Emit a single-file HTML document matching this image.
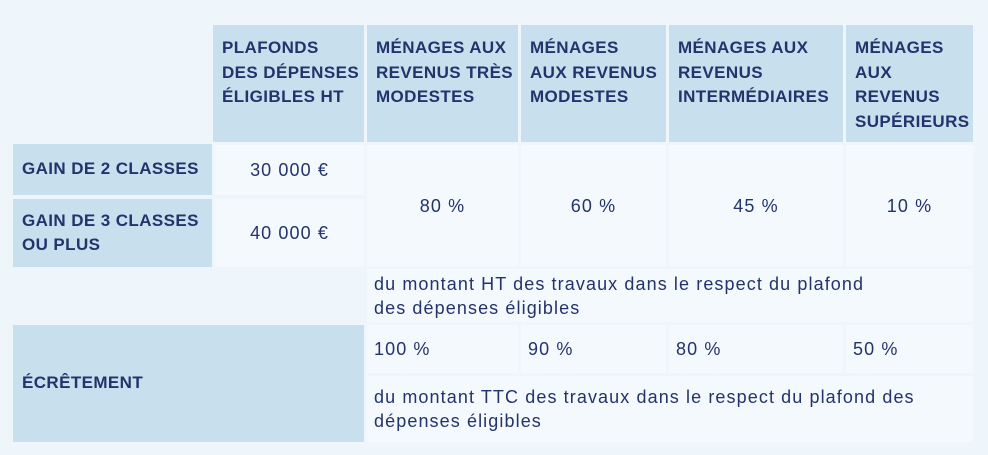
<!DOCTYPE html>
<html><head><meta charset="utf-8"><style>
body{margin:0;width:988px;height:455px;background:#eef5fb;position:relative;overflow:hidden;font-family:"Liberation Sans",sans-serif;color:#23336b}
.c{position:absolute;box-sizing:border-box;white-space:nowrap}
.h{background:#c8dfed;font-weight:bold;font-size:17px;line-height:24.5px;padding:11px 9px;letter-spacing:0.4px}
.d{background:#f4f9fd;font-size:18px;line-height:24px;letter-spacing:1.1px}
.ctr{display:flex;align-items:center;justify-content:center}
.lft{display:flex;align-items:center;padding-left:9px}
</style></head><body>
<div class="c h" style="left:213px;top:25px;width:151px;height:117px">PLAFONDS<br>DES DÉPENSES<br>ÉLIGIBLES HT</div>
<div class="c h" style="left:367px;top:25px;width:151px;height:117px">MÉNAGES AUX<br>REVENUS TRÈS<br>MODESTES</div>
<div class="c h" style="left:521px;top:25px;width:145px;height:117px">MÉNAGES<br>AUX REVENUS<br>MODESTES</div>
<div class="c h" style="left:669px;top:25px;width:174px;height:117px">MÉNAGES AUX<br>REVENUS<br>INTERMÉDIAIRES</div>
<div class="c h" style="left:846px;top:25px;width:127px;height:117px">MÉNAGES<br>AUX<br>REVENUS<br>SUPÉRIEURS</div>

<div class="c h lft" style="left:13px;top:144px;width:199px;height:51px;padding-top:0;padding-bottom:0">GAIN DE 2 CLASSES</div>
<div class="c h lft" style="left:13px;top:199px;width:199px;height:68px;padding-top:0;padding-bottom:0">GAIN DE 3 CLASSES<br>OU PLUS</div>
<div class="c d ctr" style="left:215px;top:145px;width:149px;height:50px">30 000 €</div>
<div class="c d ctr" style="left:215px;top:199px;width:149px;height:68px">40 000 €</div>
<div class="c d ctr" style="left:367px;top:145px;width:151px;height:121px">80 %</div>
<div class="c d ctr" style="left:521px;top:145px;width:145px;height:121px">60 %</div>
<div class="c d ctr" style="left:669px;top:145px;width:174px;height:121px">45 %</div>
<div class="c d ctr" style="left:846px;top:145px;width:127px;height:121px">10 %</div>

<div class="c d" style="left:367px;top:269px;width:606px;height:53px;padding:3px 7px">du montant HT des travaux dans le respect du plafond<br>des dépenses éligibles</div>

<div class="c h lft" style="left:13px;top:325px;width:351px;height:117px;padding-top:0;padding-bottom:0">ÉCRÊTEMENT</div>
<div class="c d lft" style="left:367px;top:325px;width:151px;height:48px;padding-left:7px">100 %</div>
<div class="c d lft" style="left:521px;top:325px;width:145px;height:48px;padding-left:7px">90 %</div>
<div class="c d lft" style="left:669px;top:325px;width:174px;height:48px;padding-left:7px">80 %</div>
<div class="c d lft" style="left:846px;top:325px;width:127px;height:48px;padding-left:7px">50 %</div>
<div class="c d" style="left:367px;top:376px;width:606px;height:66px;padding:9px 7px">du montant TTC des travaux dans le respect du plafond des<br>dépenses éligibles</div>
</body></html>
